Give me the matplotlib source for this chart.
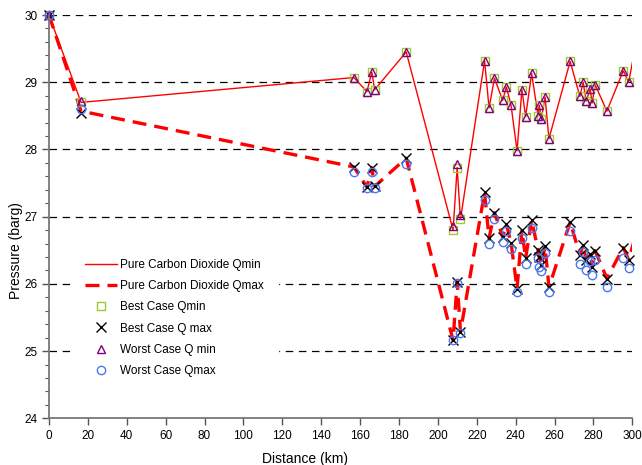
import matplotlib
matplotlib.use("Agg")
from matplotlib import pyplot as plt
from matplotlib.ticker import MultipleLocator

# distance (km) of the measurement points
dist = [0, 16.5, 156.8, 163.5, 166.0, 167.5, 183.7, 207.8, 209.9, 211.6,
        224.0, 226.3, 229.1, 233.3, 235.2, 237.6, 240.7, 243.2, 245.1, 248.2,
        251.5, 252.1, 253.2, 255.1, 257.1, 268.0, 273.0, 274.7, 276.2, 278.3,
        279.3, 280.9, 286.9, 295.3, 298.1]

best_qmin = [30.0, 28.70, 29.07, 28.86, 29.15, 28.89, 29.45, 26.80, 27.73, 26.96,
             29.32, 28.62, 29.06, 28.73, 28.93, 28.66, 27.98, 28.89, 28.49, 29.13,
             28.50, 28.66, 28.46, 28.78, 28.16, 29.31, 28.79, 29.00, 28.72, 28.90,
             28.69, 28.96, 28.57, 29.17, 29.00]
worst_qmin = [30.0, 28.72, 29.07, 28.86, 29.15, 28.89, 29.45, 26.86, 27.79, 27.02,
              29.32, 28.62, 29.06, 28.73, 28.93, 28.66, 27.98, 28.89, 28.49, 29.13,
              28.50, 28.66, 28.46, 28.78, 28.16, 29.31, 28.79, 29.00, 28.72, 28.90,
              28.69, 28.96, 28.57, 29.17, 29.00]
best_qmax = [30.0, 28.54, 27.74, 27.44, 27.73, 27.45, 27.87, 25.16, 26.03, 25.29,
             27.36, 26.68, 27.06, 26.70, 26.89, 26.61, 25.93, 26.80, 26.38, 26.95,
             26.50, 26.40, 26.28, 26.56, 25.95, 26.92, 26.43, 26.58, 26.36, 26.45,
             26.25, 26.49, 26.08, 26.54, 26.36]
worst_qmax = [30.0, 28.60, 27.67, 27.42, 27.66, 27.42, 27.78, 25.17, 26.01, 25.27,
              27.25, 26.59, 26.96, 26.62, 26.79, 26.52, 25.88, 26.69, 26.29, 26.83,
              26.38, 26.25, 26.19, 26.46, 25.88, 26.79, 26.29, 26.47, 26.20, 26.34,
              26.13, 26.36, 25.96, 26.39, 26.23]

# pure CO2 lines run a little past the 300 km edge
pure_dist = dist + [302]
pure_qmin = best_qmin + [29.6]
pure_qmax = [30.0, 28.57] + best_qmax[2:] + [26.75]

plt.rcParams['font.family'] = ['Liberation Sans', 'DejaVu Sans']

fig = plt.figure(figsize=(6.42, 4.65), dpi=100)
ax = fig.add_axes([0.0763, 0.1004, 0.9087, 0.8673])

ax.plot(pure_dist, pure_qmin, color='red', lw=1.0, label='Pure Carbon Dioxide Qmin')
ax.plot(pure_dist, pure_qmax, color='red', lw=2.4, linestyle=(0, (4.2, 2.4)),
        label='Pure Carbon Dioxide Qmax')
ax.plot(dist, best_qmin, 's', ms=5.5, mfc='none', mec='#9acd32', mew=1.0,
        label='Best Case Qmin', clip_on=False)
ax.plot(dist, best_qmax, 'x', ms=6.5, color='black', mew=1.0,
        label='Best Case Q max', clip_on=False)
ax.plot(dist, worst_qmin, '^', ms=5.5, mfc='none', mec='#800080', mew=1.0,
        label='Worst Case Q min', clip_on=False)
ax.plot(dist, worst_qmax, 'o', ms=6, mfc='none', mec='#4a78f0', mew=1.0,
        label='Worst Case Qmax', clip_on=False)

ax.set_xlim(0, 300)
ax.set_ylim(24, 30)
ax.xaxis.set_major_locator(MultipleLocator(20))
ax.yaxis.set_major_locator(MultipleLocator(1))
ax.yaxis.set_minor_locator(MultipleLocator(0.2))

for g in [25, 26, 27, 28, 29, 30]:
    ax.axhline(g, color='black', lw=0.9, linestyle=(0, (6, 4.5)), zorder=0.5)

for s in ['top', 'right']:
    ax.spines[s].set_visible(False)
for s in ['left', 'bottom']:
    ax.spines[s].set_color('#777777')
    ax.spines[s].set_linewidth(1.3)
ax.tick_params(which='major', length=5, width=1, color='#555555', labelsize=8.5, direction='out')
ax.tick_params(which='minor', length=3, width=0.8, color='#555555')

ax.set_xlabel('Distance (km)', fontsize=10)
ax.set_ylabel('Pressure (barg)', fontsize=10)
ax.xaxis.set_label_coords(0.439, -0.083)
ax.yaxis.set_label_coords(-0.045, 0.415)

leg = ax.legend(loc='upper left', bbox_to_anchor=(0.028, 0.445), fontsize=8.5,
                frameon=True, fancybox=False, framealpha=1, edgecolor='white',
                handlelength=2.7, handletextpad=0.25, labelspacing=0.78, borderpad=1.2)
leg.set_zorder(5)

fig.savefig('out.png', dpi=100)
